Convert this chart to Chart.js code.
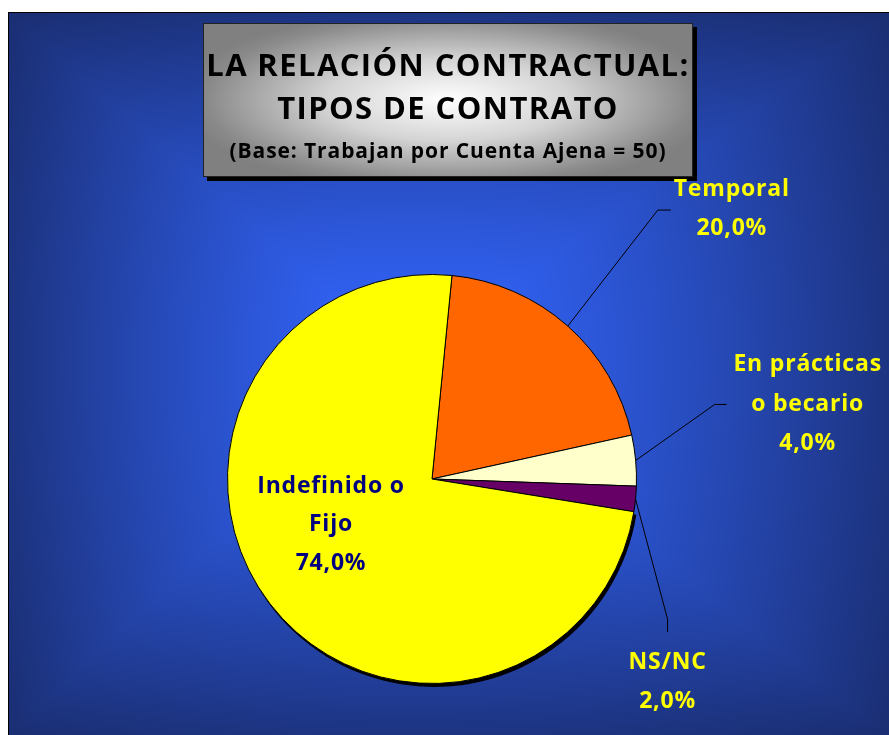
<!DOCTYPE html>
<html><head><meta charset="utf-8">
<script src="https://cdn.jsdelivr.net/npm/chart.js@4"></script>
<style>
html,body{margin:0;padding:0;background:#fff;width:889px;height:735px;overflow:hidden}
#bg{position:absolute;left:8px;top:12px;}
#c{position:absolute;left:0;top:0;z-index:2}
#title{position:absolute;z-index:1;left:203px;top:23px;width:490px;height:154px;box-sizing:border-box;border:1px solid #222;
 background:radial-gradient(ellipse 55% 60% at 50% 50%, #ffffff 0%, #d4d4d4 45%, #8a8a8a 90%, #808080 100%);
 box-shadow:4px 4px 0 #000;font-family:"Open Sans",sans-serif;font-weight:bold;color:#000}
#title div{position:absolute;left:0;right:0;text-align:center;white-space:nowrap}
#t1{top:18px;font-size:31px;letter-spacing:1.4px;line-height:44px}
#t2{top:61px;font-size:31px;letter-spacing:1.4px;line-height:44px}
#t3{top:111px;font-size:21px;letter-spacing:0.9px;line-height:30px}
</style></head>
<body>
<canvas id="bg" width="881" height="723"></canvas>
<div id="title"><div id="t1">LA RELACIÓN CONTRACTUAL:</div><div id="t2">TIPOS DE CONTRATO</div><div id="t3">(Base: Trabajan por Cuenta Ajena = 50)</div></div>
<canvas id="c" width="889" height="735"></canvas>
<script>
// ---- data ----
const categories = ["Temporal", "En prácticas o becario", "NS/NC", "Indefinido o Fijo"];
const values = [20.0, 4.0, 2.0, 74.0];
const labelLines = [["Temporal"], ["En prácticas", "o becario"], ["NS/NC"], ["Indefinido o", "Fijo"]];
const sliceColors = ["#ff6600", "#ffffcc", "#660066", "#ffff00"];

// ---- background (rectangular gradient panel) ----
(function(){
  const bg = document.getElementById('bg');
  const g = bg.getContext('2d');
  const W = bg.width, H = bg.height;
  const img = g.createImageData(W, H);
  const cx = 400, cy = 350;
  const c0 = [51,102,255], c1 = [26,46,114];
  for (let y=0;y<H;y++){
    for (let x=0;x<W;x++){
      const hx = x<cx ? cx : W-cx, hy = y<cy ? cy : H-cy;
      const ux = Math.abs(x-cx)/hx, uy = Math.abs(y-cy)/hy;
      let t = Math.max(ux, uy)*0.7 + Math.sqrt((ux*ux+uy*uy)/2)*0.3;
      t = Math.min(1, Math.pow(t, 1.25));
      const i = (y*W+x)*4;
      img.data[i]   = c0[0]+(c1[0]-c0[0])*t;
      img.data[i+1] = c0[1]+(c1[1]-c0[1])*t;
      img.data[i+2] = c0[2]+(c1[2]-c0[2])*t;
      img.data[i+3] = 255;
    }
  }
  g.putImageData(img,0,0);
  g.strokeStyle='#000'; g.lineWidth=1;
  g.beginPath(); g.moveTo(0.5,H); g.lineTo(0.5,0.5); g.lineTo(W,0.5); g.stroke();
})();

// ---- label layout (style) ----
const elbowOff = [[90,-116],[79,-56],[32,120],null];
const tailOff  = [[13,0],[12,0],[0,13],null];
const textOff  = [[61,-21],[81,-40],[0,30],[-101,7]];
const lineGap  = [39,39.5,39,38.5];
const labelColor = ["#ffff00","#ffff00","#ffff00","#000080"];

const pct = v => v.toFixed(1).replace('.', ',') + '%';

const shadowPlugin = {
  id:'shadow',
  beforeDatasetsDraw(chart){
    const meta = chart.getDatasetMeta(0);
    const el = meta.data[3];
    const p = el.getProps(['x','y','startAngle','endAngle','outerRadius'], true);
    const ctx = chart.ctx;
    ctx.save();
    ctx.fillStyle = '#000';
    ctx.beginPath();
    ctx.moveTo(p.x+2, p.y+3);
    ctx.arc(p.x+2, p.y+3, p.outerRadius+0.5, p.startAngle, p.endAngle);
    ctx.closePath();
    ctx.fill();
    ctx.restore();
  }
};

const labelPlugin = {
  id:'labels',
  afterDatasetsDraw(chart){
    const meta = chart.getDatasetMeta(0);
    const ctx = chart.ctx;
    ctx.save();
    ctx.font = 'bold 23px "Open Sans", sans-serif';
    ctx.letterSpacing = '0.8px';
    ctx.textAlign = 'center';
    ctx.textBaseline = 'middle';
    meta.data.forEach((el, i) => {
      const p = el.getProps(['x','y','startAngle','endAngle','outerRadius'], true);
      const mid = (p.startAngle + p.endAngle)/2;
      let tx, ty;
      if (elbowOff[i]) {
        const ax = p.x + p.outerRadius*Math.cos(mid), ay = p.y + p.outerRadius*Math.sin(mid);
        const ex = ax + elbowOff[i][0], ey = ay + elbowOff[i][1];
        const fx = ex + tailOff[i][0], fy = ey + tailOff[i][1];
        ctx.strokeStyle = '#000'; ctx.lineWidth = 1;
        ctx.beginPath(); ctx.moveTo(ax, ay); ctx.lineTo(ex, ey); ctx.lineTo(fx, fy); ctx.stroke();
        tx = fx + textOff[i][0]; ty = fy + textOff[i][1];
      } else {
        tx = p.x + textOff[i][0]; ty = p.y + textOff[i][1];
      }
      const lines = labelLines[i].concat([pct(values[i])]);
      ctx.fillStyle = labelColor[i];
      lines.forEach((s, k) => ctx.fillText(s, tx, ty + k*lineGap[i]));
    });
    ctx.restore();
  }
};

new Chart(document.getElementById('c'), {
  type:'pie',
  data:{ labels: categories, datasets:[{ data: values, backgroundColor: sliceColors, borderColor:'#000', borderWidth:1, hoverOffset:0, offset:0 }]},
  options:{
    responsive:false, animation:false, rotation:5.6,
    layout:{ padding:{ left:227, top:274, right:252, bottom:51 } },
    plugins:{ legend:{display:false}, tooltip:{enabled:false} },
    events:[]
  },
  plugins:[shadowPlugin, labelPlugin]
});
</script>
</body></html>
